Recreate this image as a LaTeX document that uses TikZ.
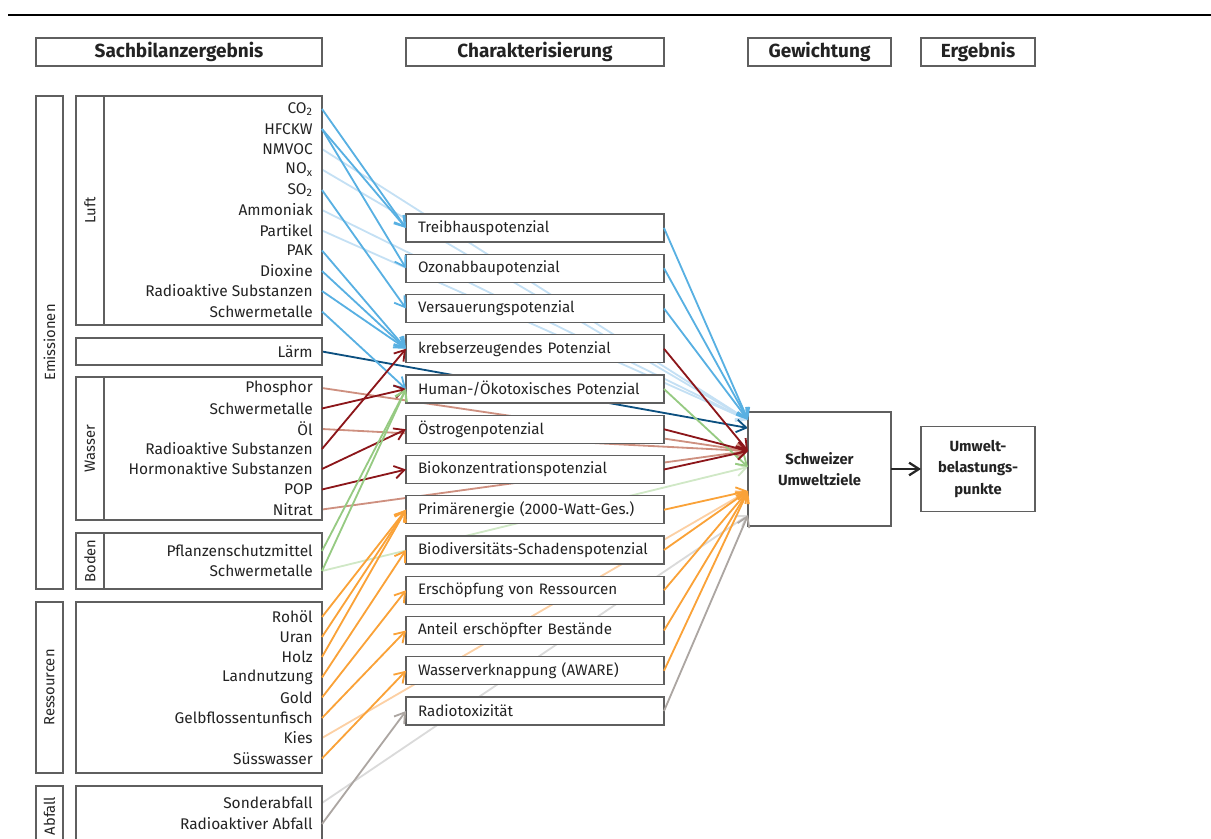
\documentclass[tikz,border=0pt]{standalone}
\usepackage{fontspec}
\setmainfont{Fira Sans}
\usepackage{xcolor}
\usetikzlibrary{positioning,arrows.meta,backgrounds}

\definecolor{boxgray}{RGB}{95,95,95}
\definecolor{textdark}{RGB}{35,35,35}
\definecolor{lineblue}{RGB}{88,176,226}
\definecolor{paleblue}{RGB}{196,224,244}
\definecolor{darkblue}{RGB}{12,80,128}
\definecolor{darkred}{RGB}{140,22,26}
\definecolor{palered}{RGB}{206,144,128}
\definecolor{linegreen}{RGB}{150,202,130}
\definecolor{palegreen}{RGB}{208,232,198}
\definecolor{lineorange}{RGB}{250,162,56}
\definecolor{paleorange}{RGB}{252,208,164}
\definecolor{linegray}{RGB}{172,166,162}
\definecolor{palegray}{RGB}{218,218,218}

\newlength\px
\setlength\px{0.025cm}

\begin{document}
\begin{tikzpicture}[x=0.025cm, y=-0.025cm, >={Straight Barb[length=7pt,width=9pt]},
  head/.style={draw=boxgray, line width=0.9pt, fill=white, minimum height=28\px, inner sep=0pt, text=textdark, font=\fontsize{13.5}{16}\selectfont\bfseries},
  group/.style={draw=boxgray, line width=0.9pt, inner sep=0pt},
  grouplabel/.style={group, rotate=90, text=textdark, font=\fontsize{10.5}{12}\selectfont},
  item/.style={anchor=east, inner xsep=9\px, inner ysep=0pt, text=textdark, font=\fontsize{11}{13}\selectfont},
  effect/.style={draw=boxgray, line width=0.9pt, fill=white, outer sep=0pt, minimum width=258\px, minimum height=28\px, text width=234\px, inner xsep=12\px, inner ysep=1pt, align=left, text=textdark, font=\fontsize{10.8}{13}\selectfont},
  result/.style={draw=boxgray, line width=0.9pt, fill=white, outer sep=0pt, align=center, text=textdark, font=\fontsize{10.5}{15}\selectfont\bfseries},
  flow/.style={->, line width=1.3pt}]

  \useasboundingbox (0,0) rectangle (1211,839);
  \clip (0,0) rectangle (1211,839);

  \draw[line width=1.5pt] (8,15) -- (1211,15);

  % headers
  \node[head, minimum width=286\px] (sach) at (179,52) {Sachbilanzergebnis};
  \node[head, minimum width=258\px] (charak) at (535,52) {Charakterisierung};
  \node[head, minimum width=143\px] (gewicht) at (819.5,52) {Gewichtung};
  \node[head, minimum width=114\px] (ergeb) at (978,52) {Ergebnis};

  % groups of the inventory
  \node[grouplabel, minimum width=493\px, minimum height=27\px] (emis) at (49.5,342.5) {Emissionen};
  \node[grouplabel, minimum width=171\px, minimum height=27\px] (ress) at (49.5,687.5) {Ressourcen};
  \node[grouplabel, minimum width=60\px, minimum height=27\px] (abf) at (49.5,816) {Abfall};
  \node[grouplabel, minimum width=229\px, minimum height=28\px] (luft) at (90,210.5) {Luft};
  \node[group, minimum width=218\px, minimum height=229\px] (luftbox) at (213,210.5) {};
  \node[group, minimum width=246\px, minimum height=27\px] (laermbox) at (199,351.5) {};
  \node[grouplabel, minimum width=143\px, minimum height=28\px] (wasser) at (90,448.5) {Wasser};
  \node[group, minimum width=218\px, minimum height=143\px] (wasserbox) at (213,448.5) {};
  \node[grouplabel, minimum width=56\px, minimum height=28\px] (boden) at (90,561) {Boden};
  \node[group, minimum width=218\px, minimum height=56\px] (bodenbox) at (213,561) {};
  \node[group, minimum width=246\px, minimum height=171\px] (ressbox) at (199,687.5) {};
  \node[group, minimum width=246\px, minimum height=60\px] (abfbox) at (199,816) {};

  % Luft
  \node[item] (co2) at (322,109) {CO\textsubscript{2}};
  \node[item] (hfckw) at (322,129) {HFCKW};
  \node[item] (nmvoc) at (322,149) {NMVOC};
  \node[item] (nox) at (322,169.5) {NO\textsubscript{x}};
  \node[item] (so2) at (322,190) {SO\textsubscript{2}};
  \node[item] (ammoniak) at (322,210) {Ammoniak};
  \node[item] (partikel) at (322,230.5) {Partikel};
  \node[item] (pak) at (322,250.5) {PAK};
  \node[item] (dioxine) at (322,271) {Dioxine};
  \node[item] (radluft) at (322,291) {Radioaktive Substanzen};
  \node[item] (schwluft) at (322,311.5) {Schwermetalle};
  \node[item] (laerm) at (322,351.5) {Lärm};
  % Wasser
  \node[item] (phosphor) at (322,388) {Phosphor};
  \node[item] (schwwasser) at (322,408.5) {Schwermetalle};
  \node[item] (oel) at (322,429) {Öl};
  \node[item] (radwasser) at (322,449) {Radioaktive Substanzen};
  \node[item] (hormon) at (322,469) {Hormonaktive Substanzen};
  \node[item] (pop) at (322,489.5) {POP};
  \node[item] (nitrat) at (322,509.5) {Nitrat};
  % Boden
  \node[item] (pflanzen) at (322,551) {Pflanzenschutzmittel};
  \node[item] (schwboden) at (322,571) {Schwermetalle};
  % Ressourcen
  \node[item] (rohoel) at (322,617) {Rohöl};
  \node[item] (uran) at (322,637) {Uran};
  \node[item] (holz) at (322,657) {Holz};
  \node[item] (landnutzung) at (322,677.5) {Landnutzung};
  \node[item] (gold) at (322,697.5) {Gold};
  \node[item] (thunfisch) at (322,718) {Gelbflossentunfisch};
  \node[item] (kies) at (322,738) {Kies};
  \node[item] (suesswasser) at (322,758.5) {Süsswasser};
  % Abfall
  \node[item] (sonder) at (322,803) {Sonderabfall};
  \node[item] (radabfall) at (322,824) {Radioaktiver Abfall};

  % Charakterisierung
  \node[effect] (treibhaus) at (535,228) {Treibhauspotenzial};
  \node[effect, below=12.25\px of treibhaus] (ozon) {Ozonabbaupotenzial};
  \node[effect, below=12.25\px of ozon] (versauerung) {Versauerungspotenzial};
  \node[effect, below=12.25\px of versauerung] (krebs) {krebserzeugendes Potenzial};
  \node[effect, below=12.25\px of krebs] (human) {Human-/Ökotoxisches Potenzial};
  \node[effect, below=12.25\px of human] (oestrogen) {Östrogenpotenzial};
  \node[effect, below=12.25\px of oestrogen] (biokonz) {Biokonzentrationspotenzial};
  \node[effect, below=12.25\px of biokonz] (primaer) {Primärenergie (2000-Watt-Ges.)};
  \node[effect, below=12.25\px of primaer] (biodiv) {Biodiversitäts-Schadenspotenzial};
  \node[effect, below=12.25\px of biodiv] (erschoepf) {Erschöpfung von Ressourcen};
  \node[effect, below=12.25\px of erschoepf] (anteil) {Anteil erschöpfter Bestände};
  \node[effect, below=12.25\px of anteil] (wasserknapp) {Wasserverknappung (AWARE)};
  \node[effect, below=12.25\px of wasserknapp] (radiotox) {Radiotoxizität};

  % Gewichtung and Ergebnis
  \node[result, minimum width=143\px, minimum height=114\px] (ziele) at (819.5,469) {Schweizer\\Umweltziele};
  \node[result, minimum width=114\px, minimum height=85\px, right=30\px of ziele] (ubp) {Umwelt-\\belastungs-\\punkte};
  \draw[->, line width=1.6pt, black!85] (ziele) -- (ubp);

  \coordinate (zblau) at ([yshift=49\px]ziele.west);
  \coordinate (zdunkel) at ([yshift=41\px]ziele.west);
  \coordinate (zrot) at ([yshift=18\px]ziele.west);
  \coordinate (zgruen) at ([yshift=2\px]ziele.west);
  \coordinate (zorange) at ([yshift=-22\px]ziele.west);
  \coordinate (zgrau) at ([yshift=-46\px]ziele.west);

  % direct flows, behind the boxes
  \begin{pgfonlayer}{background}
    \draw[flow, paleblue] (nmvoc.east) -- (zblau);
    \draw[flow, paleblue] (nox.east) -- (zblau);
    \draw[flow, paleblue] (ammoniak.east) -- (zblau);
    \draw[flow, paleblue] (partikel.east) -- (zblau);
    \draw[flow, darkblue] (laerm.east) -- (zdunkel);
    \draw[flow, palered] (phosphor.east) -- (zrot);
    \draw[flow, palered] (oel.east) -- (zrot);
    \draw[flow, palered] (nitrat.east) -- (zrot);
    \draw[flow, palegreen] (schwboden.east) -- (zgruen);
    \draw[flow, paleorange] (kies.east) -- (zorange);
    \draw[flow, palegray] (sonder.east) -- (zgrau);
  \end{pgfonlayer}

  % Luft
  \draw[flow, lineblue] (co2.east) -- (treibhaus.west);
  \draw[flow, lineblue] (hfckw.east) -- (treibhaus.west);
  \draw[flow, lineblue] (hfckw.east) -- (ozon.west);
  \draw[flow, lineblue] (so2.east) -- (versauerung.west);
  \draw[flow, lineblue] (pak.east) -- (krebs.west);
  \draw[flow, lineblue] (dioxine.east) -- (krebs.west);
  \draw[flow, lineblue] (radluft.east) -- (krebs.west);
  \draw[flow, lineblue] (schwluft.east) -- (human.west);
  % Wasser
  \draw[flow, darkred] (schwwasser.east) -- (human.west);
  \draw[flow, darkred] (radwasser.east) -- (krebs.west);
  \draw[flow, darkred] (hormon.east) -- (oestrogen.west);
  \draw[flow, darkred] (pop.east) -- (biokonz.west);
  % Boden
  \draw[flow, linegreen] (pflanzen.east) -- (human.west);
  \draw[flow, linegreen] (schwboden.east) -- (human.west);
  % Ressourcen
  \draw[flow, lineorange] (rohoel.east) -- (primaer.west);
  \draw[flow, lineorange] (uran.east) -- (primaer.west);
  \draw[flow, lineorange] (holz.east) -- (primaer.west);
  \draw[flow, lineorange] (landnutzung.east) -- (biodiv.west);
  \draw[flow, lineorange] (gold.east) -- (erschoepf.west);
  \draw[flow, lineorange] (thunfisch.east) -- (anteil.west);
  \draw[flow, lineorange] (suesswasser.east) -- (wasserknapp.west);
  % Abfall
  \draw[flow, linegray] (radabfall.east) -- (radiotox.west);

  % to the Swiss targets
  \draw[flow, lineblue] (treibhaus.east) -- (zblau);
  \draw[flow, lineblue] (ozon.east) -- (zblau);
  \draw[flow, lineblue] (versauerung.east) -- (zblau);
  \draw[flow, darkred] (krebs.east) -- (zrot);
  \draw[flow, linegreen] (human.east) -- (zgruen);
  \draw[flow, darkred] (oestrogen.east) -- (zrot);
  \draw[flow, darkred] (biokonz.east) -- (zrot);
  \draw[flow, lineorange] (primaer.east) -- (zorange);
  \draw[flow, lineorange] (biodiv.east) -- (zorange);
  \draw[flow, lineorange] (erschoepf.east) -- (zorange);
  \draw[flow, lineorange] (anteil.east) -- (zorange);
  \draw[flow, lineorange] (wasserknapp.east) -- (zorange);
  \draw[flow, linegray] (radiotox.east) -- (zgrau);
\end{tikzpicture}
\end{document}
